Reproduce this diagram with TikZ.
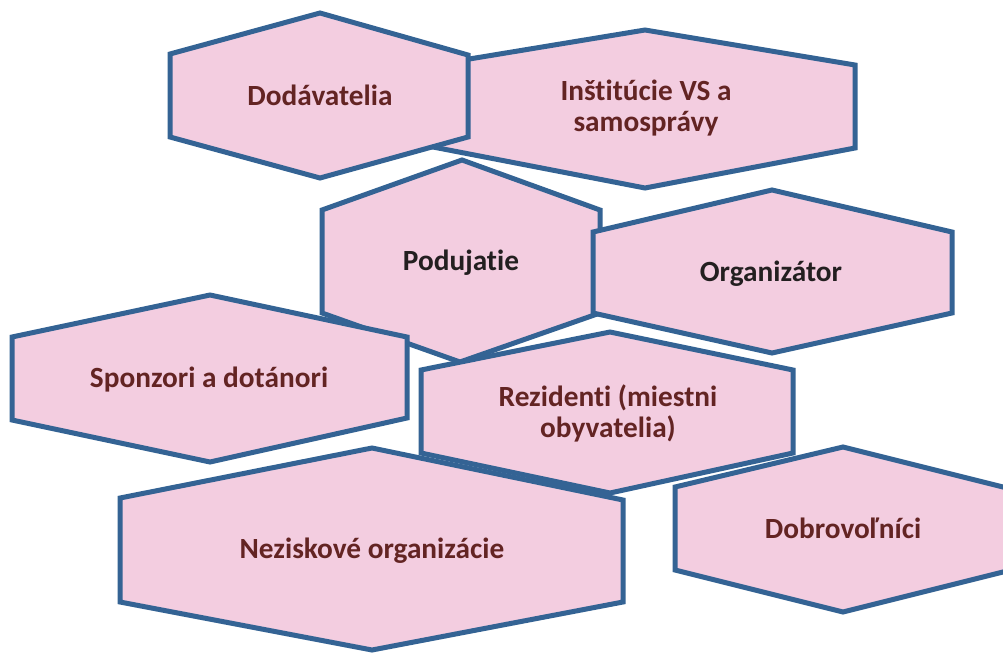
\documentclass[tikz,border=0pt]{standalone}
\usepackage{fontspec}
\setmainfont{Carlito}[Ligatures={NoCommon}]
\definecolor{hexfill}{RGB}{243,205,224}
\definecolor{hexline}{RGB}{52,99,148}
\definecolor{maroontxt}{RGB}{99,36,35}
\definecolor{darktxt}{RGB}{35,31,32}
\tikzset{
  hexa/.style={fill=hexfill, draw=hexline, line width=5pt, line join=miter},
  lbl/.style={font=\bfseries\fontsize{29.3}{30.8}\selectfont, text=maroontxt, anchor=base, align=center, inner sep=0pt},
  lbldark/.style={lbl, text=darktxt}
}
\begin{document}
\begin{tikzpicture}[x=1pt,y=-1pt]
\useasboundingbox (0,0) rectangle (1003,653);
\clip (0,0) rectangle (1003,653);
% Institucie
\draw[hexa] (433,65) -- (645,30) -- (855,65) -- (855,148) -- (645,188) -- (433,147) -- cycle;
% Dodavatelia
\draw[hexa] (170,54) -- (320,13) -- (468,55) -- (468,137) -- (320,178) -- (170,137) -- cycle;
% Podujatie
\draw[hexa] (322,210) -- (462,160) -- (600,210) -- (600,313) -- (460,362) -- (322,313) -- cycle;
% Organizator
\draw[hexa] (593,232) -- (772,190) -- (952,232) -- (952,313) -- (772,353) -- (593,313) -- cycle;
% Sponzori
\draw[hexa] (12,337) -- (210,295) -- (407,337) -- (407,418) -- (210,462) -- (12,420) -- cycle;
% Rezidenti
\draw[hexa] (421,370) -- (610,332) -- (793,370) -- (793,453) -- (610,493) -- (421,453) -- cycle;
% Neziskove
\draw[hexa] (120,498) -- (372,448) -- (623,500) -- (623,602) -- (372,650) -- (120,602) -- cycle;
% Dobrovolnici
\draw[hexa] (675,487) -- (843,447) -- (1011,489) -- (1011,570) -- (843,612) -- (675,570) -- cycle;

\node[lbl] (dod) at (320,105) {Dodávatelia};
\node[lbl] (inst) at (646,131) {Inštitúcie VS a\\samosprávy};
\node[lbldark] (pod) at (461,270) {Podujatie};
\node[lbldark] (org) at (771,281) {Organizátor};
\node[lbl] (spo) at (209,387) {Sponzori a dotánori};
\node[lbl] (rez) at (608,437) {Rezidenti (miestni\\obyvatelia)};
\node[lbl] (nez) at (372,558) {Neziskové organizácie};
\node[lbl] (dob) at (843,538) {Dobrovoľníci};
\end{tikzpicture}
\end{document}
